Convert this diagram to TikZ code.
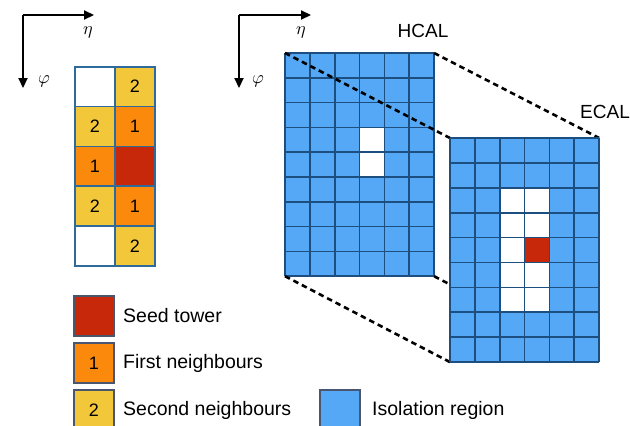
\documentclass[tikz,border=0pt]{standalone}
\usepackage{fontspec}
\setmainfont{Liberation Sans}
\usetikzlibrary{arrows.meta}

\definecolor{seedred}{HTML}{C8280A}
\definecolor{firstorange}{HTML}{FB8A0C}
\definecolor{secondyellow}{HTML}{F2C83A}
\definecolor{isoblue}{HTML}{55A8F5}
\definecolor{gridblue}{HTML}{1C4F80}
\definecolor{smallgrid}{HTML}{2F6B9A}
\definecolor{legendedge}{HTML}{4A5670}

\newcommand{\axissym}[1]{\scalebox{1.8}{$#1$}}

\tikzset{
  axisline/.style={line width=2.2pt, arrows={-Triangle[length=10pt,width=9pt]}},
  axislabel/.style={inner sep=0pt},
  cell/.style={draw=smallgrid, line width=1.6pt, minimum width=40pt,
    minimum height=39.8pt, inner sep=0pt, anchor=north west,
    font=\fontsize{18}{20}\selectfont},
  seedcell/.style={cell, fill=seedred},
  firstcell/.style={cell, fill=firstorange},
  secondcell/.style={cell, fill=secondyellow},
  emptycell/.style={cell, fill=white},
  calgrid/.style={draw=gridblue, line width=1.7pt},
  projection/.style={black, line width=2.6pt, dash pattern=on 5.5pt off 4pt},
  callabel/.style={inner sep=0pt, font=\fontsize{19}{22}\selectfont},
  legendbox/.style={draw=legendedge, line width=1.4pt, minimum width=40pt,
    minimum height=40pt, inner sep=0pt, font=\fontsize{18}{20}\selectfont},
  legendtext/.style={anchor=west, inner sep=0pt, font=\fontsize{19.5}{22}\selectfont},
}

% an eta/phi axis pair: corner at #1,#2, eta arrow to x=#3, phi arrow to y=#4
\newcommand{\etaphiaxes}[5]{%
  \coordinate (#5o) at (#1,#2);
  \coordinate (#5e) at (#3,#2);
  \coordinate (#5p) at (#1,#4);
  \draw[axisline] (#5o) -- (#5e);
  \draw[axisline] (#5o) -- (#5p);
}

\begin{document}
\begin{tikzpicture}[x=1pt, y=-1pt]
\clip (0,0) rectangle (630,426);
\fill[white] (0,0) rectangle (630,426);

% eta / phi axes beside the tower cluster
\etaphiaxes{23}{15}{94}{88}{a}
\node[axislabel] (eta1) at (88,32) {\axissym{\eta}};
\node[axislabel] (phi1) at (44,81) {\axissym{\varphi}};

% eta / phi axes beside the calorimeter layers
\etaphiaxes{239}{15}{311}{88}{b}
\node[axislabel] (eta2) at (301,32) {\axissym{\eta}};
\node[axislabel] (phi2) at (258,81) {\axissym{\varphi}};

% seed tower with its first and second neighbours
\node[emptycell]  (t00) at (74,66)    {};
\node[secondcell] (t01) at (114,66)   {2};
\node[secondcell] (t10) at (74,105.8) {2};
\node[firstcell]  (t11) at (114,105.8){1};
\node[firstcell]  (t20) at (74,145.6) {1};
\node[seedcell]   (t21) at (114,145.6){};
\node[secondcell] (t30) at (74,185.4) {2};
\node[firstcell]  (t31) at (114,185.4){1};
\node[emptycell]  (t40) at (74,225.2) {};
\node[secondcell] (t41) at (114,225.2){2};

% HCAL layer: 6 x 9 towers
\def\hx{285}\def\hy{53}\def\hw{24.85}\def\hh{24.8}
\coordinate (htl) at (\hx,\hy);
\coordinate (htr) at (\hx+6*\hw,\hy);
\coordinate (hbl) at (\hx,\hy+9*\hh);
\coordinate (hbr) at (\hx+6*\hw,\hy+9*\hh);
\fill[isoblue] (htl) rectangle (hbr);
\fill[white] (\hx+3*\hw,\hy+3*\hh) rectangle (\hx+4*\hw,\hy+5*\hh);
\foreach \i in {0,...,6} \draw[calgrid] (\hx+\i*\hw,\hy) -- (\hx+\i*\hw,\hy+9*\hh);
\foreach \j in {0,...,9} \draw[calgrid] (\hx,\hy+\j*\hh) -- (\hx+6*\hw,\hy+\j*\hh);
\node[callabel] (hcal) at (423,31) {HCAL};

% ECAL layer corners
\def\ex{450}\def\ey{138}\def\ew{24.85}\def\eh{24.9}
\coordinate (etl) at (\ex,\ey);
\coordinate (etr) at (\ex+6*\ew,\ey);
\coordinate (ebl) at (\ex,\ey+9*\eh);
\coordinate (ebr) at (\ex+6*\ew,\ey+9*\eh);

% projection lines from HCAL onto ECAL
\draw[projection] (htl) -- (etl);
\draw[projection] (htr) -- (etr);
\draw[projection] (hbl) -- (ebl);
\draw[projection] (hbr) -- (ebr);

% ECAL layer: 6 x 9 crystals
\fill[isoblue] (etl) rectangle (ebr);
\fill[white] (\ex+2*\ew,\ey+2*\eh) rectangle (\ex+4*\ew,\ey+7*\eh);
\fill[seedred] (\ex+3*\ew,\ey+4*\eh) rectangle (\ex+4*\ew,\ey+5*\eh);
\foreach \i in {0,...,6} \draw[calgrid] (\ex+\i*\ew,\ey) -- (\ex+\i*\ew,\ey+9*\eh);
\foreach \j in {0,...,9} \draw[calgrid] (\ex,\ey+\j*\eh) -- (\ex+6*\ew,\ey+\j*\eh);
\node[callabel] (ecal) at (605,112) {ECAL};

% legend
\node[legendbox, fill=seedred]      (kseed)   at (94,316) {};
\node[legendtext] (lseed) at (123,316) {Seed tower};
\node[legendbox, fill=firstorange]  (kfirst)  at (94,363) {1};
\node[legendtext] (lfirst) at (123,363) {First neighbours};
\node[legendbox, fill=secondyellow] (ksecond) at (94,410) {2};
\node[legendtext] (lsecond) at (123,410) {Second neighbours};
\node[legendbox, fill=isoblue]      (kiso)    at (340,410) {};
\node[legendtext] (liso) at (372,410) {Isolation region};
\end{tikzpicture}
\end{document}
